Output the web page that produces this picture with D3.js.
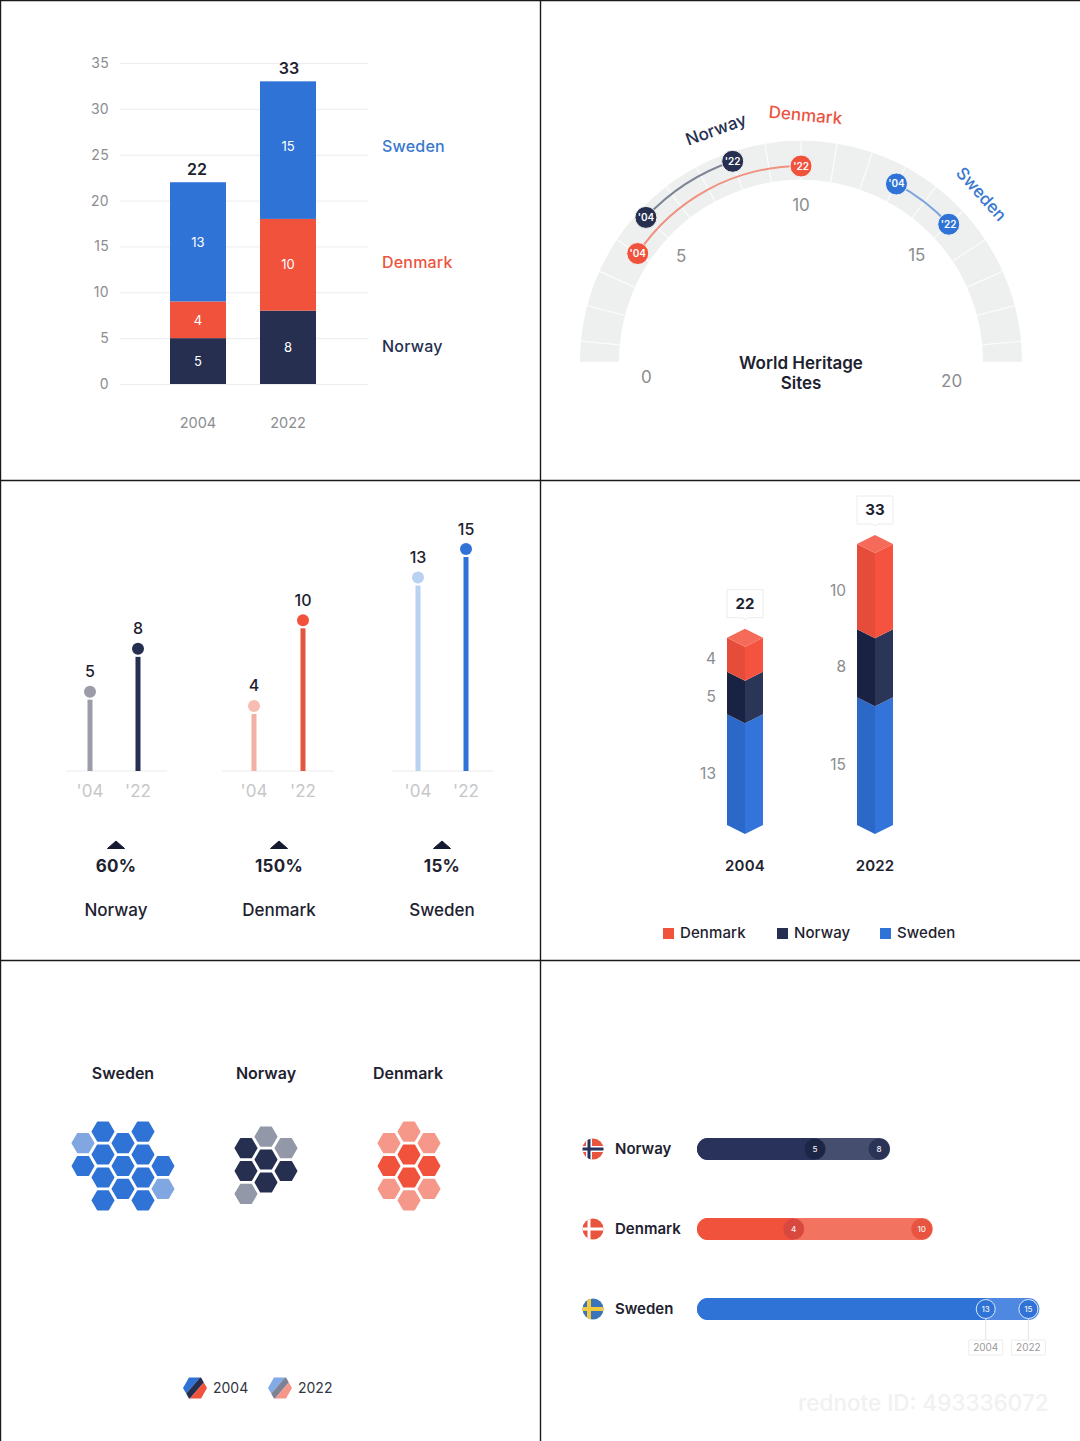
<!DOCTYPE html>
<html>
<head>
<meta charset="utf-8">
<script src="https://d3js.org/d3.v7.min.js"></script>
<style>
html,body{margin:0;padding:0;background:#fff}
svg{display:block}
text{font-family:Inter,"Liberation Sans",sans-serif}
</style>
</head>
<body>
<svg id="chart" width="1080" height="1441"></svg>
<script>
// World Heritage Sites in three Nordic countries, 2004 and 2022
const countries = ["Norway", "Denmark", "Sweden"];
const years = ["2004", "2022"];
const shortYears = ["'04", "'22"];
const sites2004 = [5, 4, 13];
const sites2022 = [8, 10, 15];
const growthPct = [60, 150, 15];
const axisTicks = [0, 5, 10, 15, 20, 25, 30, 35];
const gaugeTicks = [0, 5, 10, 15, 20];
const colors = ["#262f50", "#f0523c", "#2f73d6"];
const paleColors = ["#9298a8", "#f5988a", "#80a7e1"];

const svg = d3.select("#chart");
const INK = "#1e2230", GREY = "#8b8d90";
const label = (g, x, y, str, size, fill, weight = 400, anchor = "middle") =>
  g.append("text").attr("x", x).attr("y", y).attr("font-size", size).attr("fill", fill)
    .attr("font-weight", weight).attr("text-anchor", anchor).text(str);
const byYear = yi => (yi === 0 ? sites2004 : sites2022);

/* Panel frame */
const frame = svg.append("g").attr("stroke", "#1a1a1a").attr("stroke-width", 1.4);
[[0.5, 0, 0.5, 1441], [540.5, 0, 540.5, 1441], [0, 480.5, 1080, 480.5], [0, 960.5, 1080, 960.5], [0, 0.5, 1080, 0.5]]
  .forEach(([a, b, c, d]) => frame.append("line").attr("x1", a).attr("y1", b).attr("x2", c).attr("y2", d));

/* Stacked columns */
(function stackedColumns() {
  const g = svg.append("g");
  const y = d3.scaleLinear().domain([0, 35]).range([384, 63]);
  const x = d3.scalePoint().domain(years).range([198, 288]);
  const barW = 56;
  const axis = g.append("g").attr("transform", "translate(120,0)")
    .call(d3.axisLeft(y).tickValues(axisTicks).tickSize(-248).tickPadding(11));
  axis.select(".domain").remove();
  axis.selectAll(".tick line").attr("stroke", "#ececec");
  axis.selectAll(".tick text").attr("font-size", 14).attr("fill", GREY)
    .attr("letter-spacing", 0.3).style("font-family", "Inter,sans-serif");
  years.forEach((yr, yi) => {
    const vals = byYear(yi);
    const stack = d3.stack().keys([0, 1, 2])([vals]);
    stack.forEach((s, ci) => {
      const [a, b] = s[0];
      g.append("rect").attr("x", x(yr) - barW / 2).attr("width", barW)
        .attr("y", y(b)).attr("height", y(a) - y(b)).attr("fill", colors[ci]);
      const lift = yi === 1 && ci === 2 ? 4 : yi === 1 && ci === 1 ? 1 : 0;
      label(g, x(yr), (y(a) + y(b)) / 2 + 5 - lift, vals[ci], 13, "#fff");
    });
    label(g, x(yr) + (yi ? 1 : -1), y(d3.sum(vals)) - 7, d3.sum(vals), 16, INK, 600);
    label(g, x(yr), 428, yr, 14.5, GREY);
  });
  [["Sweden", 152, 2], ["Denmark", 268, 1], ["Norway", 352, 0]].forEach(([n, yy, c]) =>
    label(g, 382, yy, n, 16, c === 0 ? colors[0] : c === 1 ? "#ec5340" : "#3a78cf", 500, "start")
      .attr("letter-spacing", 0.2));
})();

/* Semicircular gauge */
(function gauge() {
  const g = svg.append("g").attr("transform", "translate(801,362)");
  const deg = d => d * Math.PI / 180;
  const a = d3.scaleLinear().domain([0, 20]).range([deg(-94), deg(94)]);
  // The track is one thick stroked arc so that its ends finish in full round caps
  g.append("path").attr("fill", "none").attr("stroke", "#eef0f0").attr("stroke-width", 39)
    .attr("stroke-linecap", "round")
    .attr("d", d3.arc().innerRadius(201.5).outerRadius(201.5).startAngle(a(0.43)).endAngle(a(19.57))());
  d3.range(1, 20).forEach(v => {
    const p0 = d3.pointRadial(a(v), 182), p1 = d3.pointRadial(a(v), 221);
    g.append("line").attr("x1", p0[0]).attr("y1", p0[1]).attr("x2", p1[0]).attr("y2", p1[1])
      .attr("stroke", "#fbfbfb").attr("stroke-width", 1.2);
  });
  const tickNudge = [[2, 4], [-5, 1], [0, 0], [1, 0], [-6, 8]];
  gaugeTicks.forEach((v, i) => {
    const p = d3.pointRadial(a(v), 157);
    label(g, p[0] + tickNudge[i][0], p[1] + 6 + tickNudge[i][1], v, 17, GREY);
  });
  const radii = [212, 196, 202];
  const lineCol = ["#7d8494", "#f0907f", "#7ea3dc"];
  countries.forEach((c, i) => {
    g.append("path").attr("fill", lineCol[i]).attr("d", d3.arc().innerRadius(radii[i] - 1).outerRadius(radii[i] + 1)
      .startAngle(a(sites2004[i])).endAngle(a(sites2022[i]))());
    [sites2004[i], sites2022[i]].forEach((v, k) => {
      const p = d3.pointRadial(a(v), radii[i]);
      g.append("circle").attr("cx", p[0]).attr("cy", p[1]).attr("r", 11).attr("fill", colors[i])
        .attr("stroke", "#f4f5f5").attr("stroke-width", 1);
      label(g, p[0], p[1] + 3.5, shortYears[k], 10, "#fff", 600);
    });
  });
  [["Norway", -83, -232, -20, colors[0]], ["Denmark", 4, -246, 5, "#ec5340"], ["Sweden", 176, -169, 48, "#3a78cf"]]
    .forEach(([n, x, y, r, c]) =>
      label(g, 0, 0, n, 17, c, 500).attr("transform", `translate(${x},${y + 5}) rotate(${r})`));
  label(g, 0, 7, "World Heritage", 17, INK, 600);
  label(g, 0, 27, "Sites", 17, INK, 600);
})();

/* Lollipops with growth figures */
(function lollipops() {
  const g = svg.append("g");
  const y = d3.scaleLinear().domain([0, 15]).range([771, 557]);
  const centres = [116, 279, 442];
  const pairs = [[90, 138], [254, 303], [418, 466]];
  const bases = [[66, 167], [222, 334], [392, 493]];
  const stem2004 = ["#9a9ca8", "#f3b1a6", "#b9d2f1"];
  const dot2004 = ["#9a9ca8", "#f7bdb3", "#b9d2f1"];
  const stem2022 = [colors[0], "#e2553f", "#2f73d6"];
  countries.forEach((c, i) => {
    g.append("line").attr("x1", bases[i][0]).attr("x2", bases[i][1]).attr("y1", 771).attr("y2", 771)
      .attr("stroke", "#ececec").attr("stroke-width", 1.2);
    [sites2004[i], sites2022[i]].forEach((v, k) => {
      const x = pairs[i][k];
      g.append("rect").attr("x", x - 2.5).attr("width", 5).attr("y", y(v)).attr("height", 771 - y(v))
        .attr("fill", k ? stem2022[i] : stem2004[i]);
      g.append("circle").attr("cx", x).attr("cy", y(v) - 8).attr("r", 6)
        .attr("fill", k ? colors[i] : dot2004[i]);
      label(g, x, y(v) - 22.5, v, 16, INK, 500);
      label(g, x, 797, shortYears[k], 17, "#c6c7c9");
    });
    const cx = centres[i];
    g.append("path").attr("fill", "#141a30").attr("stroke", "#141a30").attr("stroke-linejoin", "round")
      .attr("d", d3.line()([[cx - 8.5, 848.5], [cx, 841], [cx + 8.5, 848.5]]) + "Z");
    label(g, cx, 872, growthPct[i] + "%", 17, INK, 700).attr("letter-spacing", 0.3);
    label(g, cx, 916, c, 17, INK, 500);
  });
})();

/* Isometric stacked columns */
(function isoColumns() {
  const g = svg.append("g");
  const y = d3.scaleLinear().domain([0, 33]).range([825, 544]);
  const order = [2, 0, 1]; // Sweden at the base, then Norway, then Denmark
  const x = d3.scalePoint().domain(years).range([745, 875]);
  const hw = 18, drop = 9;
  const left = ["#1a2244", "#e54d3a", "#2c68c8"];
  const right = ["#2b3558", "#f5533f", "#3274d9"];
  const line = d3.line();
  years.forEach((yr, yi) => {
    const vals = byYear(yi), cx = x(yr);
    let acc = 0;
    order.forEach(ci => {
      const yB = y(acc), yT = y(acc + vals[ci]);
      g.append("path").attr("fill", left[ci]).attr("d", line([[cx - hw, yT], [cx, yT + drop], [cx, yB + drop], [cx - hw, yB]]) + "Z");
      g.append("path").attr("fill", right[ci]).attr("d", line([[cx + hw, yT], [cx, yT + drop], [cx, yB + drop], [cx + hw, yB]]) + "Z");
      label(g, cx - 29, (yB + yT) / 2 + 9, vals[ci], 15.5, GREY, 400, "end");
      acc += vals[ci];
    });
    const top = y(acc);
    g.append("path").attr("fill", "#f56a58").attr("d", line([[cx - hw, top], [cx, top - drop], [cx + hw, top], [cx, top + drop]]) + "Z");
    const tip = top - drop - 9;
    g.append("path").attr("fill", "#fff").attr("stroke", "#ececec").attr("stroke-width", 1)
      .attr("d", line([[cx - 18, tip - 30], [cx + 18, tip - 30], [cx + 18, tip - 2], [cx + 3, tip - 2], [cx, tip], [cx - 3, tip - 2], [cx - 18, tip - 2]]) + "Z");
    label(g, cx, tip - 11, d3.sum(vals), 15, INK, 700);
    label(g, cx, 871, yr, 15, INK, 600).attr("letter-spacing", 0.2);
  });
  [["Denmark", 663, 1], ["Norway", 777, 0], ["Sweden", 880, 2]].forEach(([n, lx, c]) => {
    g.append("rect").attr("x", lx).attr("y", 928).attr("width", 11).attr("height", 11).attr("fill", colors[c]);
    label(g, lx + 17, 938, n, 15, INK, 500, "start").attr("letter-spacing", 0.1);
  });
})();

/* Hexagon counts: one cell per site, the paler ones added after 2004 */
const hexPoints = r => d3.range(6).map(k => [r * Math.cos(k * Math.PI / 3), r * Math.sin(k * Math.PI / 3)]);
(function hexes() {
  const g = svg.append("g");
  const colStep = 20, rowStep = 11.45;
  const layouts = {
    Sweden: [[-2, 0], [-1, -3], [-1, -1], [-1, 1], [-1, 3], [0, -2], [0, 0], [0, 2], [1, -3], [1, -1], [1, 1], [1, 3], [2, 0], [-2, -2], [2, 2]],
    Norway: [[0, -1], [0, 1], [-1, -2], [-1, 0], [1, 0], [0, -3], [-1, 2], [1, -2]],
    Denmark: [[0, -1], [0, 1], [-1, 0], [1, 0], [0, -3], [0, 3], [-1, -2], [-1, 2], [1, -2], [1, 2]]
  };
  const spots = { Sweden: [123, 1166, 123], Norway: [266, 1171, 266], Denmark: [409, 1166, 408] };
  const hex = hexPoints(10.8);
  ["Sweden", "Norway", "Denmark"].forEach(n => {
    const i = countries.indexOf(n), [cx, cy, tx] = spots[n];
    label(g, tx, 1079, n, 16, INK, 600);
    layouts[n].slice(0, sites2022[i]).forEach(([q, r], k) => {
      const fill = k < sites2004[i] ? colors[i] : paleColors[i];
      g.append("path").attr("transform", `translate(${cx + q * colStep},${cy + r * rowStep})`)
        .attr("d", d3.line()(hex) + "Z").attr("fill", fill)
        .attr("stroke", fill).attr("stroke-width", 1.4).attr("stroke-linejoin", "round");
    });
  });
  const defs = svg.append("defs");
  defs.append("clipPath").attr("id", "legendHex").append("path")
    .attr("d", d3.line()(hexPoints(12)) + "Z");
  [[195, 1], [280, 0.6]].forEach(([cx, op], k) => {
    const h = g.append("g").attr("transform", `translate(${cx},1388)`).attr("opacity", op);
    const inner = h.append("g").attr("clip-path", "url(#legendHex)");
    // Diagonal bands: Sweden, Norway, Denmark
    [[-30, -4, colors[2]], [-4, 4, colors[0]], [4, 30, colors[1]]].forEach(([a, b, c]) => {
      inner.append("path").attr("fill", c)
        .attr("d", d3.line()([[a + 12, -14], [b + 12, -14], [b - 12, 14], [a - 12, 14]]) + "Z");
    });
    label(g, cx + 18, 1393, years[k], 14, "#33363f", 400, "start");
  });
})();

/* Horizontal range bars with flags */
(function rangeBars() {
  const g = svg.append("g");
  const x = d3.scaleLinear().domain([0, 15]).range([708.4, 1028.4]);
  const rows = [1149, 1229, 1309];
  const dark = ["#28325a", "#f0523c", "#2f73d6"];
  const lite = ["#454e6e", "#f37361", "#4f88e0"];
  const mark04 = ["#1c2545", "#d9483f", "#2f73d6"];
  const mark22 = ["#2b3457", "#e8543f", "#2f73d6"];
  const left = 697, h = 22;
  const defs = svg.append("defs");
  const flags = [
    { base: "#e8553f", bands: [["#fff", 6], ["#28325a", 3]] },
    { base: "#e8553f", bands: [["#fff", 3]] },
    { base: "#3b74b9", bands: [["#f0c93c", 4]] }
  ];
  countries.forEach((c, i) => {
    const cy = rows[i];
    defs.append("clipPath").attr("id", "flag" + i).append("circle").attr("r", 10.5);
    const fl = g.append("g").attr("transform", `translate(593,${cy})`).append("g").attr("clip-path", `url(#flag${i})`);
    fl.append("rect").attr("x", -11).attr("y", -11).attr("width", 22).attr("height", 22).attr("fill", flags[i].base);
    flags[i].bands.forEach(([col, w]) => {
      fl.append("rect").attr("x", -11).attr("y", -w / 2).attr("width", 22).attr("height", w).attr("fill", col);
      fl.append("rect").attr("x", -4 - w / 2).attr("y", -11).attr("width", w).attr("height", 22).attr("fill", col);
    });
    label(g, 615, cy + 5, c, 15, INK, 600, "start");
    const rr = h / 2;
    g.append("rect").attr("x", left).attr("y", cy - rr).attr("rx", rr).attr("height", h)
      .attr("width", x(sites2022[i]) + rr - left).attr("fill", lite[i]);
    g.append("path").attr("fill", dark[i]).attr("d",
      `M${x(sites2004[i])},${cy - rr}H${left + rr}A${rr},${rr} 0 0 0 ${left + rr},${cy + rr}H${x(sites2004[i])}Z`);
    [sites2004[i], sites2022[i]].forEach((v, k) => {
      g.append("circle").attr("cx", x(v)).attr("cy", cy).attr("r", i === 2 ? 9.5 : 10.5)
        .attr("fill", k ? mark22[i] : mark04[i])
        .attr("stroke", i === 2 ? "#dce8f8" : "none").attr("stroke-width", 1);
      label(g, x(v), cy + 3, v, 8, "#f2f2f2", 500);
    });
  });
  // Year callouts hanging off the Sweden row
  [sites2004[2], sites2022[2]].forEach((v, k) => {
    const cx = x(v);
    g.append("line").attr("x1", cx).attr("x2", cx).attr("y1", 1319).attr("y2", 1340).attr("stroke", "#e0e3e8");
    g.append("rect").attr("x", cx - 17).attr("y", 1340).attr("width", 34).attr("height", 15)
      .attr("rx", 1).attr("fill", "#fff").attr("stroke", "#ececec");
    label(g, cx, 1351, years[k], 10, "#9a9a9a");
  });
  label(g, 798, 1411, "rednote ID: 493336072", 22.5, "#f1f1f1", 500, "start");
})();
</script>
</body>
</html>
